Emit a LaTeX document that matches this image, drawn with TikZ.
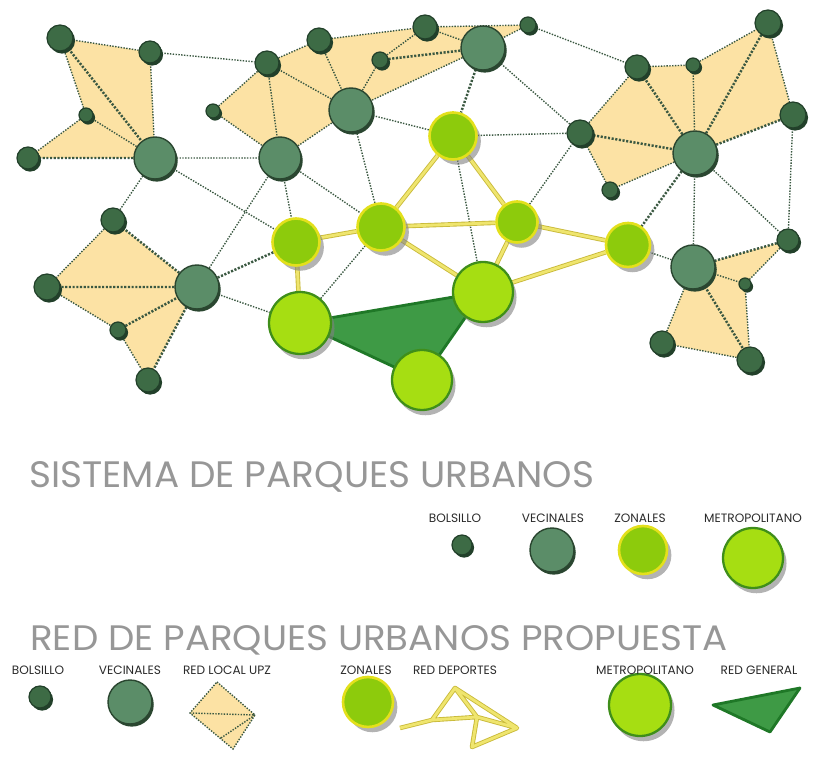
\documentclass[tikz,border=0pt]{standalone}
\usepackage{fontspec}
\setmainfont{Poppins}
\usepackage{graphicx}
\usetikzlibrary{positioning,shadows}
\definecolor{Bols}{HTML}{3D6B45}
\definecolor{BolsLine}{HTML}{22402A}
\definecolor{Vec}{HTML}{5B8D68}
\definecolor{VecLine}{HTML}{2A4630}
\definecolor{Zon}{HTML}{8DCB0C}
\definecolor{ZonLine}{HTML}{E3E01C}
\definecolor{Metro}{HTML}{A6DE12}
\definecolor{MetroLine}{HTML}{3F8E1A}
\definecolor{Upz}{HTML}{FCE2A4}
\definecolor{Edge}{HTML}{3A5841}
\definecolor{Sport}{HTML}{EFE56E}
\definecolor{SportLine}{HTML}{C9BA3A}
\definecolor{General}{HTML}{3E9A45}
\definecolor{GeneralLine}{HTML}{1F7827}
\definecolor{Title}{HTML}{979797}
\definecolor{Label}{HTML}{2A2A2A}
\pgfdeclarelayer{fills}
\pgfdeclarelayer{edges}
\pgfsetlayers{fills,edges,main}

\begin{document}
\begin{tikzpicture}[x=0.02cm,y=-0.02cm,
  park/.style={circle,inner sep=0pt},
  bols/.style={park,minimum size=#1,fill=Bols,draw=BolsLine,line width=0.7pt,
    drop shadow={shadow xshift=1.2pt,shadow yshift=-1.5pt,fill=BolsLine,opacity=1}},
  bols/.default=4.8mm,
  vec/.style={park,minimum size=#1,fill=Vec,draw=VecLine,line width=0.8pt,
    drop shadow={shadow xshift=1pt,shadow yshift=-1.5pt,fill=VecLine,opacity=1}},
  vec/.default=8.8mm,
  zon/.style={park,minimum size=#1,fill=Zon,draw=ZonLine,line width=1.5pt,
    drop shadow={shadow xshift=2.5pt,shadow yshift=-3pt,fill=gray,opacity=.6}},
  zon/.default=9.4mm,
  metro/.style={park,minimum size=#1,fill=Metro,draw=MetroLine,line width=1.3pt,
    drop shadow={shadow xshift=2pt,shadow yshift=-3pt,fill=gray,opacity=.6}},
  metro/.default=12mm,
  link/.style={draw=Edge,dash pattern=on 0.8pt off 0.8pt,line width=0.8pt},
  link2/.style={draw=Edge,dash pattern=on 1.2pt off 0.9pt,line width=1.4pt},
  sport/.style={draw=SportLine,double=Sport,double distance=1.6pt,line width=0.5pt,line join=round},
  general/.style={fill=General,draw=GeneralLine,line width=1.6pt,line join=round},
  upz/.style={fill=Upz},
  lbl/.style={font=\fontsize{6.9}{7}\selectfont,text=Label,inner sep=0pt},
  title/.style={text=Title,inner sep=0pt,anchor=base west}]
  \useasboundingbox (0,0) rectangle (814,759);
  % parques de bolsillo y vecinales
  \node[bols=5.2mm] (a1) at (60,38) {};
  \node[bols=4.4mm] (a2) at (150,52) {};
  \node[bols=2.8mm] (a3) at (86,115) {};
  \node[bols=4.4mm] (a4) at (28,158) {};
  \node[vec=8.4mm] (a5) at (155,158) {};
  \node[bols] (a6) at (113,220) {};
  \node[bols] (b1) at (267,63) {};
  \node[bols] (b2) at (319,40) {};
  \node[bols=3.2mm] (b3) at (380,60) {};
  \node[bols] (b4) at (425,27) {};
  \node[vec] (b5) at (483,48) {};
  \node[bols=3.2mm] (b6) at (528,25) {};
  \node[vec] (b7) at (351,110) {};
  \node[vec=8.4mm] (b8) at (280,158) {};
  \node[bols=2.8mm] (b9) at (213,111) {};
  \node[bols] (c1) at (637,67) {};
  \node[bols=2.8mm] (c2) at (693,65) {};
  \node[bols=5.2mm] (c3) at (768,23) {};
  \node[bols=5.2mm] (c4) at (793,115) {};
  \node[bols=5.2mm] (c5) at (580,133) {};
  \node[vec] (c6) at (695,153) {};
  \node[bols=3.2mm] (c7) at (610,190) {};
  \node[vec] (d1) at (693,267) {};
  \node[bols=4.4mm] (d2) at (788,240) {};
  \node[bols=2.4mm] (d3) at (745,284) {};
  \node[bols] (d4) at (662,343) {};
  \node[bols=5.2mm] (d5) at (750,360) {};
  \node[bols=5.2mm] (e2) at (47,287) {};
  \node[vec] (e3) at (197,287) {};
  \node[bols=3.2mm] (e4) at (118,330) {};
  \node[bols] (e5) at (148,380) {};
  % zonales y metropolitanos
  \node[zon] (z1) at (453,136) {};
  \node[zon] (z2) at (296,242) {};
  \node[zon] (z3) at (381,227) {};
  \node[zon=8.8mm] (z4) at (628,245) {};
  \node[zon=8.2mm] (z5) at (517,222) {};
  \node[metro=12.4mm] (m1) at (300,323) {};
  \node[metro] (m2) at (483,292) {};
  \node[metro] (m3) at (422,380) {};
  \begin{pgfonlayer}{fills}
    \fill[upz] (a1.center) -- (a2.center) -- (a5.center) -- (a4.center) -- (a3.center) -- cycle;
    \fill[upz] (b9.center) -- (b1.center) -- (b2.center) -- (b4.center) -- (b6.center) -- (b5.center)
      -- (b7.center) -- (b8.center) -- cycle;
    \fill[upz] (c5.center) -- (c1.center) -- (c2.center) -- (c3.center) -- (c4.center) -- (c6.center)
      -- (c7.center) -- cycle;
    \fill[upz] (d1.center) -- (d2.center) -- (d3.center) -- (d5.center) -- (d4.center) -- cycle;
    \fill[upz] (a6.center) -- (e3.center) -- (e5.center) -- (e4.center) -- (e2.center) -- cycle;
  \end{pgfonlayer}
  \begin{pgfonlayer}{edges}
    \draw[link] (a3) -- (a1) -- (a2) -- (a5) -- (a3) -- (a4);
    \draw[link] (a2) -- (b1) (a5) -- (b8) (a5) -- (a6) -- (e2) -- (e4) -- (e5) (a5) -- (z2);
    \draw[link] (e3) -- (m1) (e3) -- (b8) (b9) -- (b1) -- (b2) -- (b4) -- (b6) -- (b5) (b9) -- (b8);
    \draw[link] (b1) -- (b8) -- (b7) -- (b1) (b2) -- (b7) -- (b3) -- (b4) -- (b5) -- (b7);
    \draw[link] (b6) -- (c1) (b8) -- (z2) (b8) -- (z3) -- (b7) -- (z1) -- (c5) -- (b5) (z1) -- (m2);
    \draw[link] (z5) -- (c5) -- (c1) -- (c2) -- (c3) -- (c4) (c2) -- (c6) -- (c7) -- (c5);
    \draw[link] (c6) -- (d1) -- (z4) (c6) -- (d2) -- (c4) (d1) -- (d3) -- (d5) -- (d4) -- (d1)
      (d2) -- (d3) (m1) -- (z3);
    \draw[link2] (a1) -- (a5) -- (a4) (a6) -- (e3) -- (e2) (e4) -- (e3) -- (e5) (e3) -- (z2);
    \draw[link2] (b3) -- (b5) -- (z1) (c5) -- (c6) -- (c1) (c3) -- (c6) -- (c4) (c6) -- (z4);
    \draw[link2] (d2) -- (d1) -- (d5);
    \draw[sport] (m1) -- (z2) -- (z3) -- (z5) -- (z4) -- (m2) -- (z3) -- (z1) -- (z5) -- (m2);
    \draw[general] (m1.center) -- (m2.center) -- (m3.center) -- cycle;
  \end{pgfonlayer}
  % sistema de parques urbanos
  \node[title] (t1) at (29,488) {\resizebox{11.3cm}{0.52cm}{SISTEMA DE PARQUES URBANOS}};
  \node[bols=4mm] (l1a) at (462,545) {};
  \node[vec] (l1b) at (552,550) {};
  \node[zon=9.6mm] (l1c) at (643,550) {};
  \node[metro] (l1d) at (753,558) {};
  \node[lbl] at (455,518) {BOLSILLO};
  \node[lbl] at (553,518) {VECINALES};
  \node[lbl] at (640,518) {ZONALES};
  \node[lbl] at (753,518) {METROPOLITANO};
  % red propuesta
  \node[title] (t2) at (30,650) {\resizebox{13.94cm}{0.5cm}{RED DE PARQUES URBANOS PROPUESTA}};
  \node[bols=4.4mm] (l2a) at (40,697) {};
  \node[vec] (l2b) at (130,702) {};
  \node[zon=10mm] (l2d) at (368,702) {};
  \node[metro=12.4mm] (l2f) at (640,705) {};
  \coordinate (u1) at (217,682);
  \coordinate (u2) at (255,715);
  \coordinate (u3) at (233,749);
  \coordinate (u4) at (190,713);
  \coordinate (u5) at (221,738);
  \fill[upz] (u1) -- (u2) -- (u3) -- (u4) -- cycle;
  \draw[link] (u1) -- (u2) -- (u3) -- (u4) -- cycle (u4) -- (u2) (u5) -- (u2);
  \coordinate (p1) at (400,728);
  \coordinate (p2) at (432,720);
  \coordinate (p3) at (455,688);
  \coordinate (p4) at (477,717);
  \coordinate (p5) at (517,728);
  \coordinate (p6) at (472,747);
  \draw[sport] (p1) -- (p2) -- (p3) -- (p4) -- (p5) -- (p6) -- (p4) (p2) -- (p4) (p3) -- (p5);
  \coordinate (g1) at (713,705);
  \coordinate (g2) at (800,688);
  \coordinate (g3) at (770,732);
  \draw[general] (g1) -- (g2) -- (g3) -- cycle;
  \node[lbl] at (38,670) {BOLSILLO};
  \node[lbl] at (130,670) {VECINALES};
  \node[lbl] at (227,670) {RED LOCAL UPZ};
  \node[lbl] at (366,670) {ZONALES};
  \node[lbl] at (455,670) {RED DEPORTES};
  \node[lbl] at (645,670) {METROPOLITANO};
  \node[lbl] at (759,670) {RED GENERAL};
\end{tikzpicture}
\end{document}
